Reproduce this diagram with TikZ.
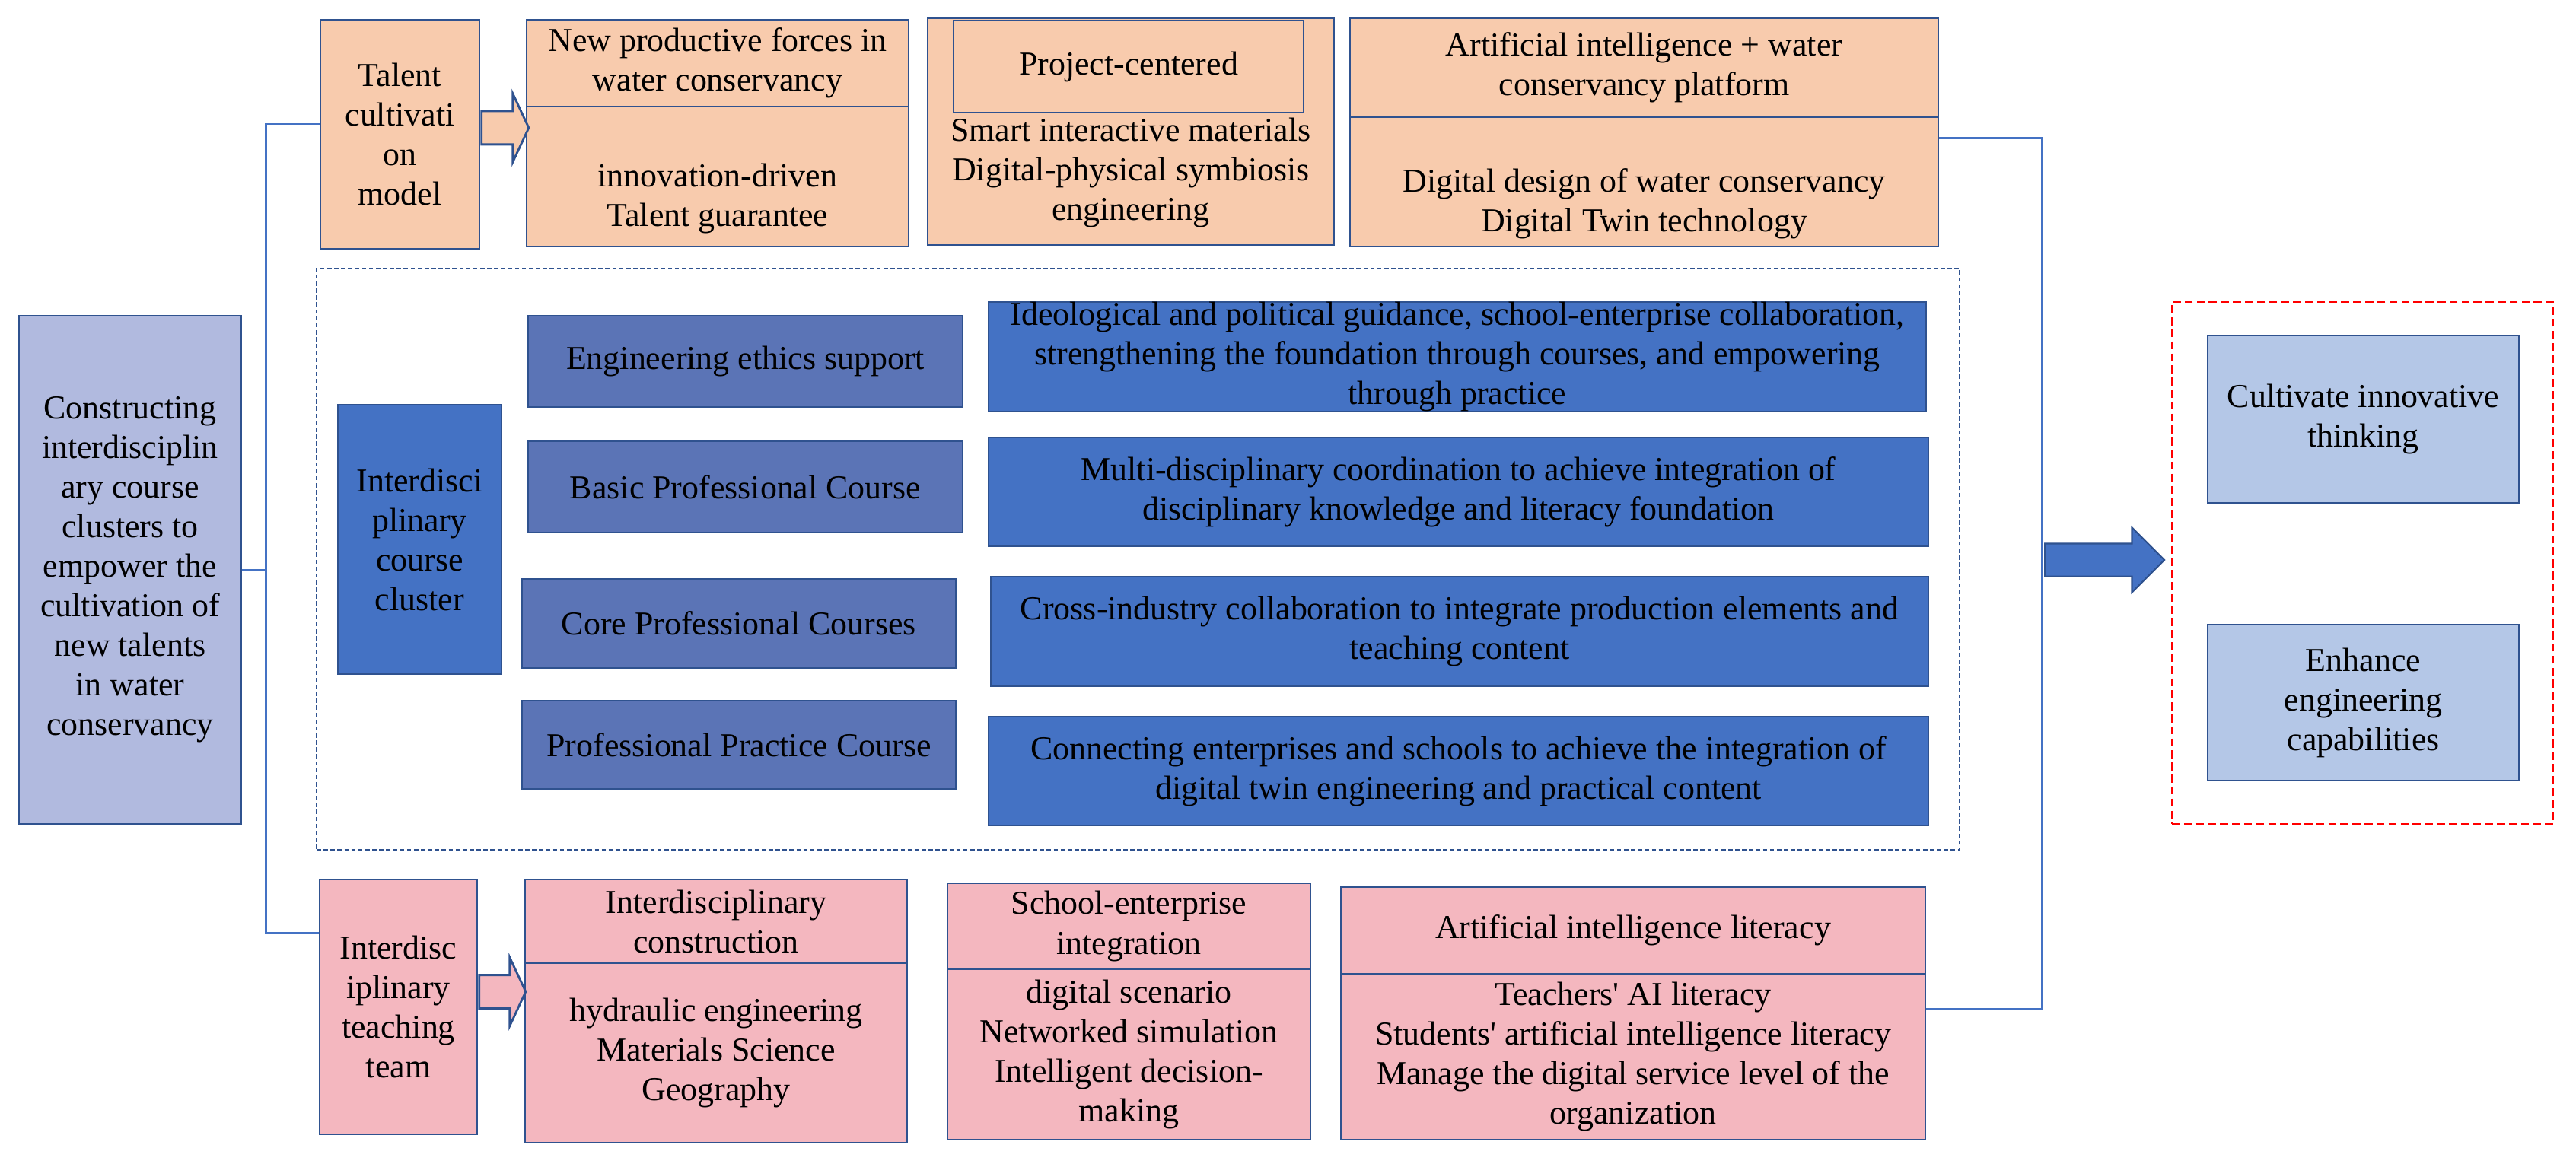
\documentclass[tikz,border=0pt]{standalone}
\usepackage{fontspec}
\setmainfont{Liberation Serif}
\usepackage{xcolor}
\usepackage{tikz}
\usetikzlibrary{shapes.arrows}

\definecolor{peach}{HTML}{F8CBAD}
\definecolor{rose}{HTML}{F4B7BF}
\definecolor{lavender}{HTML}{B1BADF}
\definecolor{coursefill}{HTML}{5B74B6}
\definecolor{descblue}{HTML}{4472C4}
\definecolor{outfill}{HTML}{B4C7E7}
\definecolor{bordblue}{HTML}{2F528F}
\definecolor{linkblue}{HTML}{4472C4}

\begin{document}
\begin{tikzpicture}[
    every node/.style={font=\fontsize{12.5}{14.8}\selectfont},
    box/.style={draw=bordblue, line width=0.8pt, align=center, inner sep=0pt},
    peachbox/.style={box, fill=peach},
    pinkbox/.style={box, fill=rose},
    course/.style={box, fill=coursefill},
    desc/.style={box, fill=descblue},
    outcome/.style={box, fill=outfill, minimum width=4.09cm},
    conn/.style={draw=linkblue, line width=0.8pt},
    hollow/.style={single arrow, draw=bordblue, line width=0.8pt,
                   single arrow tip angle=130, single arrow head extend=0.23cm,
                   inner xsep=0pt, inner ysep=0.205cm, minimum width=0pt},
    bigarrow/.style={single arrow, draw=bordblue, fill=descblue, line width=0.6pt,
                     single arrow head extend=0.21cm, inner xsep=0pt,
                     inner ysep=0.205cm, minimum width=0pt, minimum height=1.57cm}
]
\useasboundingbox (0,0) rectangle (33.85,-15.30);

% Left root box
\node[box, fill=lavender, minimum width=2.92cm, minimum height=6.68cm] (left) at (1.71,-7.49)
  {Constructing\\interdisciplin\\ary course\\clusters to\\empower the\\cultivation of\\new talents\\in water\\conservancy};

% Talent cultivation model row
\node[peachbox, minimum width=2.09cm, minimum height=3.01cm] (talent) at (5.255,-1.765)
  {Talent\\cultivati\\on\\model};
\node[peachbox, minimum width=5.02cm, minimum height=1.84cm] (npfbody) at (9.43,-2.32)
  {\strut\\innovation-driven\\Talent guarantee};
\node[peachbox, minimum width=5.02cm, minimum height=1.14cm] (npfhead) at (9.43,-0.83)
  {New productive forces in\\water conservancy};
\node[peachbox, minimum width=5.34cm, minimum height=2.98cm] (proj) at (14.86,-1.73) {};
\node[peachbox, minimum width=4.60cm, minimum height=1.21cm] (projhead) at (14.83,-0.875)
  {Project-centered};
\node[align=center, inner sep=0pt] (projbody) at (14.86,-2.27)
  {Smart interactive materials\\Digital-physical symbiosis\\engineering};
\node[peachbox, minimum width=7.73cm, minimum height=1.70cm] (aibody) at (21.605,-2.39)
  {\strut\\Digital design of water conservancy\\Digital Twin technology};
\node[peachbox, minimum width=7.73cm, minimum height=1.30cm] (aihead) at (21.605,-0.89)
  {Artificial intelligence + water\\conservancy platform};
\node[hollow, fill=peach, minimum height=0.62cm, anchor=tail] (arrtalent)
  at ([yshift=0.085cm]talent.east) {};

% Interdisciplinary course cluster
\node[draw=bordblue, line width=0.6pt, dash pattern=on 1.6pt off 1pt,
      minimum width=21.59cm, minimum height=7.64cm] (frame) at (14.955,-7.35) {};
\node[box, fill=descblue, minimum width=2.15cm, minimum height=3.54cm] (cluster) at (5.515,-7.09)
  {Interdisci\\plinary\\course\\cluster};
\node[course, minimum width=5.71cm, minimum height=1.20cm] (ethics) at (9.795,-4.75)
  {Engineering ethics support};
\node[course, minimum width=5.71cm, minimum height=1.20cm] (basic) at (9.795,-6.40)
  {Basic Professional Course};
\node[course, minimum width=5.70cm, minimum height=1.17cm] (core) at (9.71,-8.195)
  {Core Professional Courses};
\node[course, minimum width=5.70cm, minimum height=1.16cm] (practice) at (9.71,-9.79)
  {Professional Practice Course};
\node[desc, minimum width=12.32cm, minimum height=1.44cm] (ideo) at (19.15,-4.69)
  {Ideological and political guidance, school-enterprise collaboration,\\strengthening the foundation through courses, and empowering\\through practice};
\node[desc, minimum width=12.35cm, minimum height=1.43cm] (multi) at (19.165,-6.465)
  {Multi-disciplinary coordination to achieve integration of\\disciplinary knowledge and literacy foundation};
\node[desc, minimum width=12.32cm, minimum height=1.44cm] (cross) at (19.18,-8.30)
  {Cross-industry collaboration to integrate production elements and\\teaching content};
\node[desc, minimum width=12.35cm, minimum height=1.43cm] (connect) at (19.165,-10.135)
  {Connecting enterprises and schools to achieve the integration of\\digital twin engineering and practical content};

% Interdisciplinary teaching team row
\node[pinkbox, minimum width=2.07cm, minimum height=3.35cm] (teach) at (5.235,-13.235)
  {Interdisc\\iplinary\\teaching\\team};
\node[pinkbox, minimum width=5.02cm, minimum height=2.36cm] (icbody) at (9.41,-13.84)
  {hydraulic engineering\\Materials Science\\Geography};
\node[pinkbox, minimum width=5.02cm, minimum height=1.10cm] (ichead) at (9.41,-12.11)
  {Interdisciplinary\\construction};
\node[pinkbox, minimum width=4.77cm, minimum height=2.24cm] (sebody) at (14.835,-13.86)
  {digital scenario\\Networked simulation\\Intelligent decision-\\making};
\node[pinkbox, minimum width=4.77cm, minimum height=1.13cm] (sehead) at (14.835,-12.175)
  {School-enterprise\\integration};
\node[pinkbox, minimum width=7.68cm, minimum height=2.18cm] (litbody) at (21.46,-13.89)
  {Teachers\textquotesingle\ AI literacy\\Students\textquotesingle\ artificial intelligence literacy\\Manage the digital service level of the\\organization};
\node[pinkbox, minimum width=7.68cm, minimum height=1.14cm] (lithead) at (21.46,-12.23)
  {Artificial intelligence literacy};
\node[hollow, fill=rose, minimum height=0.61cm, anchor=tail] (arrteach)
  at ([yshift=0.2cm]teach.east) {};

% Outcomes
\node[draw=red, line width=0.7pt, dash pattern=on 3pt off 1.5pt,
      minimum width=5.01cm, minimum height=6.86cm] (outframe) at (31.045,-7.40) {};
\node[outcome, minimum height=2.20cm] (cultivate) at (31.055,-5.51)
  {Cultivate innovative\\thinking};
\node[outcome, minimum height=2.05cm] (enhance) at (31.055,-9.235)
  {Enhance\\engineering\\capabilities};

% Brackets
\draw[conn] (left.east) -- ++(0.31,0) coordinate (jl);
\draw[conn] ([yshift=0.135cm]talent.west) -| (jl) |- ([yshift=-0.72cm]teach.north west);
\coordinate (jr) at (26.83,-7.36);
\draw[conn] ([yshift=-0.29cm]aibody.north east) -| (jr) |- ([yshift=-0.48cm]litbody.north east);
\node[bigarrow, anchor=tail] (push) at ([xshift=0.03cm]jr) {};
\end{tikzpicture}
\end{document}
